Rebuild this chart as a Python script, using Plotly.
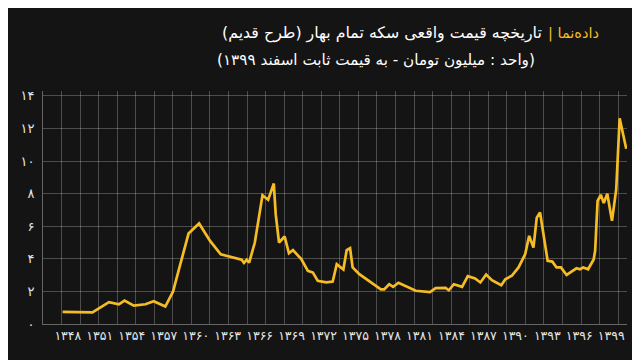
import plotly.graph_objects as go

# Data (year position, value in million toman)
years = [1347.51, 1350.31, 1351.86, 1352.79, 1353.32, 1354.19, 1355.28, 1356.06, 1357.15, 1357.87,
         1358.39, 1359.33, 1360.32, 1361.35, 1362.35, 1364.31, 1364.53, 1364.78, 1365.02, 1365.55,
         1366.27, 1366.80, 1367.33, 1367.51, 1367.82, 1368.35, 1368.75, 1369.13, 1369.91, 1370.53,
         1371.00, 1371.46, 1372.25, 1372.86, 1373.24, 1373.86, 1374.17, 1374.49, 1374.73, 1375.36,
         1376.45, 1377.38, 1377.69, 1378.16, 1378.53, 1379.03, 1380.65, 1381.99, 1382.52, 1383.45,
         1383.76, 1384.23, 1385.00, 1385.54, 1386.22, 1386.72, 1387.26, 1387.80, 1388.68, 1389.06,
         1389.67, 1390.30, 1390.92, 1391.30, 1391.70, 1392.01, 1392.32, 1393.03, 1393.47, 1393.87,
         1394.28, 1394.81, 1395.27, 1395.74, 1396.06, 1396.37, 1396.83, 1397.35, 1397.49, 1397.72,
         1398.02, 1398.30, 1398.63, 1399.07, 1399.47, 1399.79, 1400.41]
prices = [0.75, 0.71, 1.34, 1.21, 1.44, 1.13, 1.21, 1.40, 1.07, 1.98,
          3.26, 5.55, 6.17, 5.10, 4.28, 3.94, 3.75, 3.94, 3.77, 5.00,
          7.90, 7.62, 8.62, 6.74, 5.00, 5.37, 4.34, 4.53, 3.98, 3.26,
          3.16, 2.65, 2.55, 2.61, 3.67, 3.34, 4.53, 4.65, 3.47, 3.06,
          2.55, 2.12, 2.12, 2.44, 2.28, 2.53, 2.04, 1.96, 2.20, 2.22,
          2.07, 2.44, 2.28, 2.94, 2.80, 2.55, 3.04, 2.69, 2.38, 2.75,
          2.96, 3.47, 4.28, 5.41, 4.69, 6.53, 6.84, 3.88, 3.83, 3.47,
          3.47, 3.01, 3.22, 3.42, 3.36, 3.47, 3.36, 3.96, 4.49, 7.56,
          7.93, 7.42, 7.99, 6.33, 8.28, 12.63, 10.75]

x_tick_years = list(range(1348, 1400, 3))
y_tick_values = [0, 2, 4, 6, 8, 10, 12, 14]

title_brand = "داده‌نما |"
title_text = "تاریخچه قیمت واقعی سکه تمام بهار (طرح قدیم)"
subtitle_text = "(واحد : میلیون تومان - به قیمت ثابت اسفند ۱۳۹۹)"

FA = str.maketrans("0123456789", "۰۱۲۳۴۵۶۷۸۹")
def fa(n):
    return str(n).translate(FA)

RLM = "\u200f"
def rtl(s):
    return RLM + s + RLM

BG = "#141414"
YELLOW = "#F6BC26"
GRID = "rgba(255,255,255,0.24)"
FONT = "DejaVu Sans"

x_range = [1345.67, 1400.48]
grid_dtick = 1.7414

fig = go.Figure()
fig.add_trace(go.Scatter(x=years, y=prices, mode="lines",
                         line=dict(color=YELLOW, width=2.7), showlegend=False,
                         hoverinfo="skip"))
# invisible trace to carry the vertical grid axis
fig.add_trace(go.Scatter(x=[x_range[0]], y=[0], xaxis="x2", mode="markers",
                         marker=dict(opacity=0), showlegend=False, hoverinfo="skip"))

fig.update_layout(
    width=640, height=360,
    paper_bgcolor=BG, plot_bgcolor=BG,
    margin=dict(l=32, r=21, t=83, b=43.5),
    font=dict(family=FONT, color="#e6e6e6", size=12),
    xaxis=dict(range=x_range, tickvals=x_tick_years,
               ticktext=[fa(v) for v in x_tick_years],
               showgrid=False, zeroline=False, showline=True,
               linecolor="rgba(255,255,255,0.35)", ticks="",
               tickfont=dict(size=12.5, color="#e6e6e6")),
    xaxis2=dict(range=x_range, overlaying="x", tick0=x_range[0], dtick=grid_dtick,
                showgrid=True, gridcolor=GRID, gridwidth=1, showticklabels=False,
                zeroline=False, showline=False, ticks=""),
    yaxis=dict(range=[0, 14.3], tickvals=y_tick_values,
               ticktext=[fa(v) for v in y_tick_values],
               showgrid=True, gridcolor=GRID, gridwidth=1, zeroline=False,
               showline=True, linecolor="rgba(255,255,255,0.35)", ticks="",
               ticklabelstandoff=5,
               tickfont=dict(size=13, color="#e6e6e6")),
)

fig.add_annotation(x=593, y=25, xref="paper", yref="paper", text=rtl(title_brand),
                   showarrow=False, xanchor="right", yanchor="middle",
                   font=dict(size=14.5, color=YELLOW, family=FONT))
fig.add_annotation(x=536, y=25, xref="paper", yref="paper", text=rtl(title_text),
                   showarrow=False, xanchor="right", yanchor="middle",
                   font=dict(size=15.8, color="#ffffff", family=FONT))
fig.add_annotation(x=529, y=52, xref="paper", yref="paper", text=rtl(subtitle_text),
                   showarrow=False, xanchor="right", yanchor="middle",
                   font=dict(size=15.2, color="#ffffff", family=FONT))

# convert pixel positions of annotations to paper coords
pw = 640 - 32 - 21
ph = 360 - 83 - 43.5
for a in fig.layout.annotations:
    a.x = (a.x - 32) / pw
    a.y = (360 - 43.5 - a.y) / ph

fig.write_html("out.html")
